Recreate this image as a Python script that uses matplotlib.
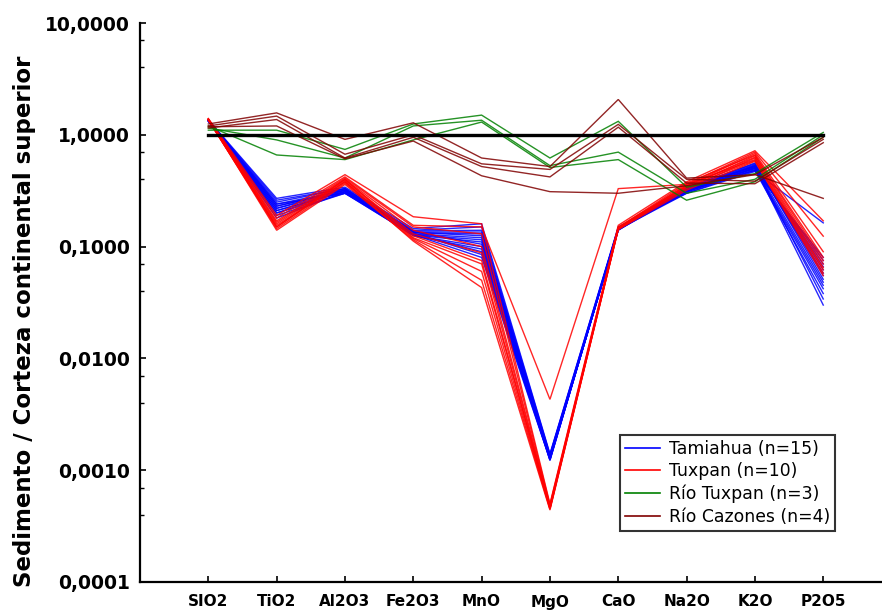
import numpy as np
import matplotlib
matplotlib.use("Agg")
import matplotlib.pyplot as plt
from matplotlib.ticker import FixedLocator, FuncFormatter, NullFormatter
from matplotlib.lines import Line2D

oxides = ["SIO2", "TiO2", "Al2O3", "Fe2O3", "MnO", "MgO", "CaO", "Na2O", "K2O", "P2O5"]

# Sample / upper continental crust ratios, one row per sample
tamiahua = [
    [1.36, 0.27, 0.34, 0.145, 0.160, 0.00140, 0.150, 0.30, 0.47, 0.163],
    [1.35, 0.26, 0.33, 0.140, 0.150, 0.00138, 0.148, 0.31, 0.48, 0.080],
    [1.34, 0.25, 0.33, 0.138, 0.140, 0.00136, 0.146, 0.32, 0.50, 0.075],
    [1.33, 0.24, 0.32, 0.135, 0.135, 0.00134, 0.145, 0.31, 0.51, 0.070],
    [1.35, 0.23, 0.32, 0.133, 0.130, 0.00133, 0.144, 0.33, 0.52, 0.066],
    [1.34, 0.22, 0.31, 0.130, 0.120, 0.00132, 0.143, 0.32, 0.53, 0.062],
    [1.32, 0.21, 0.31, 0.128, 0.115, 0.00130, 0.142, 0.33, 0.54, 0.058],
    [1.33, 0.20, 0.30, 0.127, 0.110, 0.00129, 0.141, 0.34, 0.55, 0.055],
    [1.36, 0.19, 0.30, 0.126, 0.100, 0.00128, 0.140, 0.33, 0.56, 0.051],
    [1.34, 0.18, 0.31, 0.125, 0.095, 0.00127, 0.142, 0.32, 0.52, 0.048],
    [1.33, 0.23, 0.32, 0.130, 0.090, 0.00126, 0.141, 0.31, 0.50, 0.045],
    [1.35, 0.21, 0.31, 0.132, 0.085, 0.00125, 0.143, 0.30, 0.49, 0.042],
    [1.34, 0.20, 0.32, 0.128, 0.080, 0.00124, 0.144, 0.32, 0.48, 0.038],
    [1.33, 0.22, 0.33, 0.134, 0.125, 0.00123, 0.145, 0.33, 0.53, 0.034],
    [1.36, 0.24, 0.30, 0.136, 0.105, 0.00122, 0.146, 0.31, 0.51, 0.030],
]

tuxpan = [
    [1.40, 0.190, 0.44, 0.185, 0.160, 0.00050, 0.155, 0.38, 0.72, 0.170],
    [1.38, 0.180, 0.42, 0.155, 0.150, 0.00430, 0.330, 0.36, 0.70, 0.124],
    [1.37, 0.170, 0.41, 0.150, 0.130, 0.00049, 0.150, 0.35, 0.68, 0.090],
    [1.36, 0.165, 0.40, 0.140, 0.100, 0.00048, 0.148, 0.37, 0.66, 0.080],
    [1.39, 0.160, 0.39, 0.130, 0.088, 0.00047, 0.147, 0.34, 0.65, 0.075],
    [1.35, 0.155, 0.38, 0.125, 0.075, 0.00046, 0.146, 0.35, 0.63, 0.070],
    [1.37, 0.150, 0.40, 0.120, 0.070, 0.00046, 0.145, 0.33, 0.62, 0.065],
    [1.36, 0.145, 0.37, 0.118, 0.060, 0.00045, 0.144, 0.36, 0.60, 0.062],
    [1.38, 0.140, 0.36, 0.115, 0.050, 0.00045, 0.143, 0.34, 0.59, 0.058],
    [1.35, 0.150, 0.38, 0.112, 0.043, 0.00044, 0.142, 0.32, 0.58, 0.055],
]

rio_tuxpan = [
    [1.10, 1.10, 0.74, 1.25, 1.50, 0.62, 1.32, 0.34, 0.45, 1.05],
    [1.15, 0.90, 0.62, 1.20, 1.35, 0.53, 0.70, 0.30, 0.40, 1.00],
    [1.20, 0.66, 0.60, 0.90, 1.30, 0.51, 0.60, 0.26, 0.38, 0.95],
]

rio_cazones = [
    [1.25, 1.57, 0.91, 1.28, 0.62, 0.52, 2.07, 0.41, 0.44, 0.95],
    [1.20, 1.47, 0.67, 1.00, 0.55, 0.49, 1.24, 0.40, 0.385, 0.91],
    [1.15, 1.37, 0.62, 0.95, 0.52, 0.42, 1.17, 0.37, 0.365, 0.85],
    [1.18, 1.20, 0.61, 0.88, 0.43, 0.31, 0.30, 0.35, 0.44, 0.27],
]

crust_level = [1.0] * len(oxides)

groups = [
    ("Tamiahua (n=15)", tamiahua, "#0000ff"),
    ("Tuxpan (n=10)", tuxpan, "#ff0000"),
    ("Río Tuxpan (n=3)", rio_tuxpan, "#008000"),
    ("Río Cazones (n=4)", rio_cazones, "#800000"),
]

fig = plt.figure(figsize=(8.82, 6.10), dpi=100)
ax = fig.add_axes([140 / 882, 28 / 610, 742 / 882, 559 / 610])

x = np.arange(len(oxides))
for label, rows, color in groups:
    for row in rows:
        ax.plot(x, row, color=color, lw=1.0, alpha=0.85, solid_joinstyle="miter")

ax.plot(x, crust_level, color="black", lw=2.4, zorder=5)

ax.set_yscale("log")
ax.set_ylim(1e-4, 10)
ax.set_xlim(-1, 9.86)

ax.yaxis.set_major_locator(FixedLocator([1e-4, 1e-3, 1e-2, 1e-1, 1, 10]))
minor = []
for k in range(-4, 1):
    minor += [4 * 10.0 ** k, 7 * 10.0 ** k]
ax.yaxis.set_minor_locator(FixedLocator(minor))
ax.yaxis.set_minor_formatter(NullFormatter())
ax.yaxis.set_major_formatter(FuncFormatter(lambda v, p: f"{v:.4f}".replace(".", ",")))

ax.set_xticks(x)
ax.set_xticklabels(oxides)

for s in ["top", "right"]:
    ax.spines[s].set_visible(False)
for s in ["left", "bottom"]:
    ax.spines[s].set_linewidth(1.6)
    ax.spines[s].set_color("black")

ax.tick_params(axis="y", which="major", direction="in", length=4, width=1.2,
               pad=7, labelsize=13.5)
ax.tick_params(axis="y", which="minor", direction="in", length=3, width=1.0)
ax.tick_params(axis="x", which="major", direction="in", length=4, width=1.2,
               pad=9, labelsize=11)
for lab in ax.get_xticklabels() + ax.get_yticklabels():
    lab.set_fontweight("bold")

fig.text(25 / 882, 1 - 321 / 610, "Sedimento / Corteza continental superior",
         rotation=90, ha="center", va="center", fontsize=16.5, fontweight="bold")

handles = [Line2D([0], [0], color=c, lw=1.2) for _, _, c in groups]
labels = [l for l, _, _ in groups]
leg = ax.legend(handles, labels, loc="lower left",
                bbox_to_anchor=((620 - 140) / 742, (582 - 531) / 559),
                fontsize=12.4, frameon=True, fancybox=False, borderpad=0.3,
                labelspacing=0.26, handlelength=2.0, handletextpad=0.55,
                borderaxespad=0)
leg.get_frame().set_edgecolor("black")
leg.get_frame().set_linewidth(1.5)

fig.savefig("out.png", dpi=100)
